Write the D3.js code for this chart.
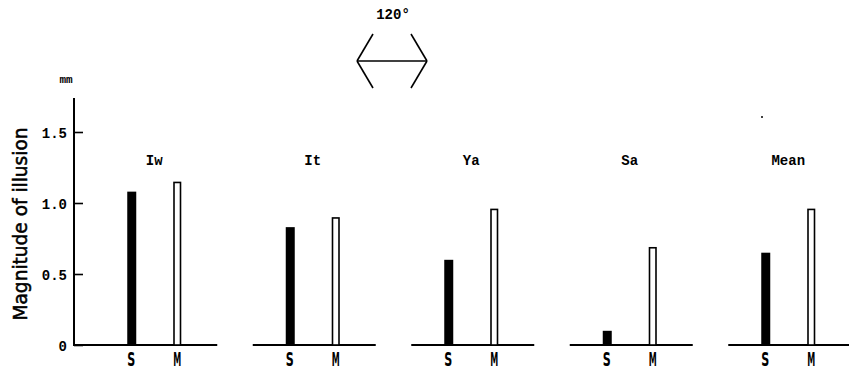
<!DOCTYPE html>
<html>
<head>
<meta charset="utf-8">
<script src="https://cdn.jsdelivr.net/npm/d3@7"></script>
<style>
  body { margin: 0; background: #fff; }
  svg { display: block; }
</style>
</head>
<body>
<script>
// data
var panels = ["Iw", "It", "Ya", "Sa", "Mean"];
var conditions = ["S", "M"];
var sValues = [1.08, 0.83, 0.60, 0.10, 0.65];
var mValues = [1.15, 0.90, 0.96, 0.69, 0.96];
var yTicks = [0, 0.5, 1.0, 1.5];

var width = 849, height = 376;
var mono = "'Liberation Mono', 'DejaVu Sans Mono', monospace";
var narrow = "'DejaVu Sans Condensed', 'DejaVu Sans', sans-serif";

var svg = d3.select("body").append("svg")
    .attr("width", width)
    .attr("height", height);

// scales
var y = d3.scaleLinear().domain([0, 1.5]).range([345, 132]);
var yTop = 98;
var x = d3.scaleBand().domain(panels).range([75, 75 + 5 * 158.5]);
var inner = d3.scalePoint().domain(conditions).range([-23, 23]);
var barW = 8;

var rows = panels.map(function(p, i) {
  return {panel: p, S: sValues[i], M: mValues[i]};
});

// y axis
var axis = svg.append("g")
    .attr("transform", "translate(74,0)")
    .call(d3.axisLeft(y)
      .tickValues(yTicks)
      .tickSize(-9)
      .tickSizeOuter(0)
      .tickPadding(7)
      .tickFormat(function(d) { return d === 0 ? "0" : d3.format(".1f")(d); }));
axis.select(".domain").remove();
axis.selectAll(".tick line").attr("stroke", "#000").attr("stroke-width", 1.6);
axis.selectAll(".tick text")
    .attr("fill", "#000")
    .attr("dy", "0.36em")
    .style("font-family", mono)
    .style("font-size", "14px")
    .style("font-weight", "bold");

svg.append("line")
    .attr("x1", 74).attr("x2", 74)
    .attr("y1", yTop).attr("y2", y(0) + 1)
    .attr("stroke", "#000").attr("stroke-width", 2);

svg.append("text")
    .attr("x", 66).attr("y", 83)
    .attr("text-anchor", "middle")
    .style("font-family", mono)
    .style("font-size", "11px")
    .style("font-weight", "bold")
    .text("mm");

svg.append("text")
    .attr("transform", "translate(27,224) rotate(-90)")
    .attr("text-anchor", "middle")
    .attr("textLength", 193)
    .attr("lengthAdjust", "spacingAndGlyphs")
    .attr("stroke", "#000")
    .attr("stroke-width", 0.5)
    .style("font-family", narrow)
    .style("font-size", "19px")
    .text("Magnitude of illusion");

// panels
var g = svg.selectAll(".panel")
    .data(rows)
  .enter().append("g")
    .attr("class", "panel")
    .attr("transform", function(d) {
      return "translate(" + (x(d.panel) + x.bandwidth() / 2) + ",0)";
    });

g.append("line")
    .attr("x1", function(d, i) { return i === 0 ? 74 - x(d.panel) - x.bandwidth() / 2 : -60; })
    .attr("x2", 63)
    .attr("y1", y(0)).attr("y2", y(0))
    .attr("stroke", "#000").attr("stroke-width", 2);

g.append("text")
    .attr("x", 0).attr("y", 165)
    .attr("text-anchor", "middle")
    .style("font-family", mono)
    .style("font-size", "14px")
    .style("font-weight", "bold")
    .text(function(d) { return d.panel; });

// S bars (filled)
g.append("rect")
    .attr("x", inner("S") - barW / 2)
    .attr("width", barW + 1)
    .attr("y", function(d) { return y(d.S); })
    .attr("height", function(d) { return y(0) - y(d.S); })
    .attr("fill", "#000");

// M bars (open)
g.append("rect")
    .attr("x", inner("M") - barW / 2 + 0.75)
    .attr("width", barW - 1.5)
    .attr("y", function(d) { return y(d.M) + 0.75; })
    .attr("height", function(d) { return y(0) - y(d.M) - 0.75; })
    .attr("fill", "#fff")
    .attr("stroke", "#000")
    .attr("stroke-width", 1.6);

g.selectAll(".cond")
    .data(conditions)
  .enter().append("text")
    .attr("class", "cond")
    .attr("x", function(c) { return inner(c) - 4; })
    .attr("y", 366)
    .attr("textLength", 8)
    .attr("lengthAdjust", "spacingAndGlyphs")
    .style("font-family", narrow)
    .style("font-size", "19px")
    .style("font-weight", "bold")
    .text(function(c) { return c; });

// Mueller-Lyer figure with 120 degree fins
var fig = svg.append("g");
fig.append("text")
    .attr("x", 393).attr("y", 19)
    .attr("text-anchor", "middle")
    .style("font-family", mono)
    .style("font-size", "14px")
    .style("font-weight", "bold")
    .text("120°");
var figLines = [
  [357, 61, 427, 61],
  [357, 61, 373, 34], [357, 61, 373, 88],
  [427, 61, 411, 34], [427, 61, 411, 88]
];
fig.selectAll("line")
    .data(figLines)
  .enter().append("line")
    .attr("x1", function(d) { return d[0]; })
    .attr("y1", function(d) { return d[1]; })
    .attr("x2", function(d) { return d[2]; })
    .attr("y2", function(d) { return d[3]; })
    .attr("stroke", "#000").attr("stroke-width", 1.6);

// speck in the scan
svg.append("circle").attr("cx", 762).attr("cy", 117).attr("r", 1).attr("fill", "#000");
</script>
</body>
</html>
